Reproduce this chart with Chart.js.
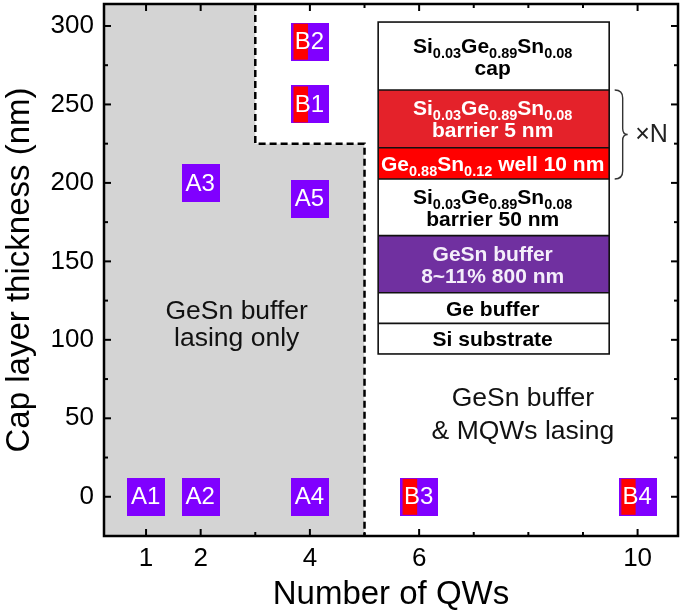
<!DOCTYPE html>
<html><head><meta charset="utf-8">
<script src="https://cdn.jsdelivr.net/npm/chart.js@4.4.0/dist/chart.umd.min.js"></script>
<style>html,body{margin:0;padding:0;background:#fff;}#wrap{width:685px;height:615px;}</style>
</head><body><div id="wrap"><canvas id="c" width="685" height="615"></canvas></div>
<script>
// ---- data ----
const xTickValues = [1, 2, 4, 6, 10];
const yTickValues = [0, 50, 100, 150, 200, 250, 300];
const aLabels = ['A1', 'A2', 'A3', 'A4', 'A5'];
const aX = [1, 2, 2, 4, 4];
const aY = [0, 0, 200, 0, 190];
const bLabels = ['B1', 'B2', 'B3', 'B4'];
const bX = [4, 4, 6, 10];
const bY = [250, 290, 0, 0];
const regionX = [0.23, 3, 3, 5, 5];
const regionY = [314, 314, 225, 225, -25];
const boundaryX = [3, 3, 5, 5];
const boundaryY = [314, 225, 225, -25];

const siGeSn = [['Si',0],['0.03',1],['Ge',0],['0.89',1],['Sn',0],['0.08',1]];
const insetLines = [
  [siGeSn, [['cap',0]]],
  [siGeSn, [['barrier 5 nm',0]]],
  [[['Ge',0],['0.88',1],['Sn',0],['0.12',1],[' well 10 nm',0]]],
  [siGeSn, [['barrier 50 nm',0]]],
  [[['GeSn buffer',0]], [['8~11% 800 nm',0]]],
  [[['Ge buffer',0]]],
  [[['Si substrate',0]]]
];
const insetBounds = [302.5, 259.2, 222.4, 202.5, 166.4, 130, 110.5, 91];
const insetFills = ['#ffffff','#e4222a','#ff0000','#ffffff','#7030a0','#ffffff','#ffffff'];
const insetTextColors = ['#000','#fff','#fff','#000','#f4eefa','#000','#000'];
const insetXRange = [5.25, 9.48];

const annotations = [
  {lines: ['GeSn buffer', 'lasing only'], x: 2.66, y: 113, gap: 27},
  {lines: ['GeSn buffer', '& MQWs lasing'], x: 7.9, y: 57.8, gap: 33}
];

const FONT = '"Liberation Sans", Arial, sans-serif';

function makeMarker(withRed) {
  const c = document.createElement('canvas');
  c.width = 38; c.height = 38;
  const g = c.getContext('2d');
  g.fillStyle = '#8000ff';
  g.fillRect(0, 0, 38, 38);
  if (withRed) { g.fillStyle = '#ff0000'; g.fillRect(2.5, 1, 14.5, 36); }
  return c;
}
const markerA = makeMarker(false);
const markerB = makeMarker(true);

function richWidth(ctx, segs, f, fs) {
  let w = 0;
  for (const [t, s] of segs) { ctx.font = 'bold ' + (s ? fs : f) + 'px ' + FONT; w += ctx.measureText(t).width; }
  return w;
}
function drawRich(ctx, segs, cx, base, f, fs) {
  let x = cx - richWidth(ctx, segs, f, fs) / 2;
  ctx.textAlign = 'left'; ctx.textBaseline = 'alphabetic';
  for (const [t, s] of segs) {
    ctx.font = 'bold ' + (s ? fs : f) + 'px ' + FONT;
    ctx.fillText(t, x, base + (s ? 5 : 0));
    x += ctx.measureText(t).width;
  }
}

function drawInset(chart) {
  const ctx = chart.ctx, xs = chart.scales.x, ys = chart.scales.y;
  const L = xs.getPixelForValue(insetXRange[0]), R = xs.getPixelForValue(insetXRange[1]);
  const Y = insetBounds.map(v => ys.getPixelForValue(v));
  ctx.save();
  for (let i = 0; i < insetFills.length; i++) {
    ctx.fillStyle = insetFills[i];
    ctx.fillRect(L, Y[i], R - L, Y[i + 1] - Y[i]);
  }
  ctx.strokeStyle = '#111'; ctx.lineWidth = 1.6;
  for (let i = 1; i < Y.length - 1; i++) {
    ctx.beginPath(); ctx.moveTo(L, Y[i]); ctx.lineTo(R, Y[i]); ctx.stroke();
  }
  ctx.strokeRect(L, Y[0], R - L, Y[Y.length - 1] - Y[0]);
  const cx = (L + R) / 2 - 1;
  for (let i = 0; i < insetLines.length; i++) {
    const lines = insetLines[i], n = lines.length;
    const cy = (Y[i] + Y[i + 1]) / 2;
    ctx.fillStyle = insetTextColors[i];
    lines.forEach((segs, j) => {
      const base = cy + (j - (n - 1) / 2) * 22 + 7.5;
      drawRich(ctx, segs, cx, base, 21, 14.5);
    });
  }
  // brace
  const top = Y[1], bot = Y[3], mid = (top + bot) / 2, bx = R + 13.5;
  ctx.strokeStyle = '#333'; ctx.lineWidth = 1.4;
  ctx.beginPath();
  ctx.moveTo(bx - 8, top);
  ctx.quadraticCurveTo(bx, top, bx, top + 8);
  ctx.lineTo(bx, mid - 6);
  ctx.quadraticCurveTo(bx, mid, bx + 5, mid);
  ctx.quadraticCurveTo(bx, mid, bx, mid + 6);
  ctx.lineTo(bx, bot - 8);
  ctx.quadraticCurveTo(bx, bot, bx - 8, bot);
  ctx.stroke();
  ctx.fillStyle = '#222';
  ctx.font = '25px ' + FONT;
  ctx.textAlign = 'left'; ctx.textBaseline = 'middle';
  ctx.fillText('\u00d7N', R + 26, mid + 1);
  ctx.restore();
}

function drawMarkerLabels(chart) {
  const ctx = chart.ctx;
  ctx.save();
  ctx.fillStyle = '#fff';
  ctx.font = '24px ' + FONT;
  ctx.textAlign = 'center'; ctx.textBaseline = 'middle';
  [[0, aLabels], [1, bLabels]].forEach(([di, labels]) => {
    const meta = chart.getDatasetMeta(di);
    meta.data.forEach((pt, i) => ctx.fillText(labels[i], pt.x - 0.5, pt.y + 1));
  });
  ctx.restore();
}

function drawAnnotations(chart) {
  const ctx = chart.ctx, xs = chart.scales.x, ys = chart.scales.y;
  ctx.save();
  ctx.fillStyle = '#111';
  ctx.font = '26.5px ' + FONT;
  ctx.textAlign = 'center'; ctx.textBaseline = 'alphabetic';
  annotations.forEach(a => {
    const x = xs.getPixelForValue(a.x), y = ys.getPixelForValue(a.y);
    a.lines.forEach((t, j) => ctx.fillText(t, x, y + j * a.gap));
  });
  ctx.restore();
}

function drawFrame(chart) {
  const ctx = chart.ctx, xs = chart.scales.x, ys = chart.scales.y;
  const {left, right, top, bottom} = chart.chartArea;
  ctx.save();
  ctx.strokeStyle = '#000'; ctx.lineWidth = 2;
  const seg = (a, b, c, d) => { ctx.beginPath(); ctx.moveTo(a, b); ctx.lineTo(c, d); ctx.stroke(); };
  for (let v = 0; v <= 300; v += 25) {
    const y = ys.getPixelForValue(v), len = v % 50 === 0 ? 7 : 4;
    seg(left, y, left + len, y); seg(right, y, right - len, y);
  }
  for (let v = 1; v <= 10; v++) {
    const x = xs.getPixelForValue(v), len = xTickValues.includes(v) ? 7 : 4;
    seg(x, bottom, x, bottom - len); seg(x, top, x, top + len);
  }
  ctx.lineWidth = 2.5;
  ctx.strokeRect(left, top, right - left, bottom - top);
  ctx.restore();
}

const customPlugin = {
  id: 'custom',
  afterDatasetsDraw(chart) { drawAnnotations(chart); drawMarkerLabels(chart); drawInset(chart); },
  afterDraw(chart) { drawFrame(chart); }
};

const toXY = (xs, ys) => xs.map((x, i) => ({x, y: ys[i]}));

new Chart(document.getElementById('c'), {
  type: 'scatter',
  data: {
    datasets: [
      {label: 'A', data: toXY(aX, aY), pointStyle: markerA, radius: 19, order: 0},
      {label: 'B', data: toXY(bX, bY), pointStyle: markerB, radius: 19, order: 1},
      {type: 'line', label: 'boundary', data: toXY(boundaryX, boundaryY), borderColor: '#000', borderWidth: 2.5,
       borderDash: [7, 4], pointRadius: 0, fill: false, tension: 0, order: 2},
      {type: 'line', label: 'region', data: toXY(regionX, regionY), borderWidth: 0, borderColor: 'rgba(0,0,0,0)',
       backgroundColor: '#d4d4d4', pointRadius: 0, fill: 'start', tension: 0, order: 3}
    ]
  },
  options: {
    responsive: false, animation: false,
    layout: {autoPadding: false, padding: {top: 4, right: 7, left: 0, bottom: 0}},
    plugins: {legend: {display: false}, tooltip: {enabled: false}},
    scales: {
      x: {
        type: 'linear', min: 0.23, max: 10.74,
        grid: {display: false, drawTicks: false}, border: {display: false},
        afterBuildTicks: s => { s.ticks = xTickValues.map(v => ({value: v})); },
        afterFit: s => { s.height = 79; s.paddingLeft = 0; s.paddingRight = 0; },
        ticks: {autoSkip: false, maxRotation: 0, padding: 7, color: '#000', font: {size: 26, family: FONT}},
        title: {display: true, text: 'Number of QWs', color: '#000', padding: {top: 0, bottom: 4},
                font: {size: 33, family: FONT, lineHeight: 1}}
      },
      y: {
        type: 'linear', min: -25, max: 314,
        grid: {display: false, drawTicks: false}, border: {display: false},
        afterBuildTicks: s => { s.ticks = yTickValues.map(v => ({value: v})); },
        afterFit: s => { s.width = 104; s.paddingTop = 0; s.paddingBottom = 0; },
        ticks: {autoSkip: false, padding: 10, color: '#000', font: {size: 26, family: FONT}},
        title: {display: true, text: 'Cap layer thickness (nm)', color: '#000', padding: {top: 3, bottom: 0},
                font: {size: 33, family: FONT, lineHeight: 1}}
      }
    }
  },
  plugins: [customPlugin]
});
</script></body></html>
